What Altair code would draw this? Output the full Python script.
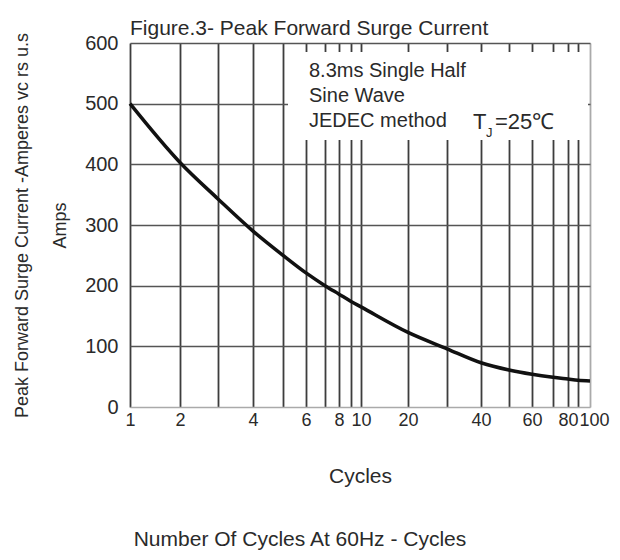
import altair as alt
import pandas as pd

# ---- data ----
cycles = [1, 2, 3, 4, 5, 6, 7, 8, 9, 10, 20, 30, 40, 50, 60, 70, 80, 90, 100]
amps = [500, 403, 343, 290, 250, 221, 200, 186, 174, 165, 123, 96, 73, 61, 54, 49, 46, 44, 43]
grid_cycles = [1, 2, 3, 4, 5, 6, 7, 8, 9, 10, 20, 30, 40, 50, 60, 70, 80, 90, 100]
labeled_cycles = [1, 2, 4, 6, 8, 10, 20, 40, 60, 80, 100]
y_ticks = [0, 100, 200, 300, 400, 500, 600]
note_lines = ["8.3ms Single Half", "Sine Wave", "JEDEC method"]
tj_main = "T"
tj_sub = "J"
tj_rest = "=25℃"
chart_title = "Figure.3- Peak Forward Surge Current"
y_title = ["Peak Forward Surge Current -Amperes vc rs u.s", "Amps"]
x_title = "Cycles"
footer = "Number Of Cycles At 60Hz - Cycles"

# printed (hand-drawn) log-cycle grid spacing of the original sheet
x_range = [0, 50, 88, 123, 153, 176, 195, 209, 221, 231, 278, 317, 351, 379, 402, 423, 438, 448, 460]

FONT = "Liberation Sans, Arial, Helvetica, sans-serif"
TXT = "#2a2a2a"

df = pd.DataFrame({"cycles": cycles, "amps": amps})
one = alt.Data(values=[{}])

lab_list = "[" + ",".join(str(v) for v in labeled_cycles) + "]"
last = labeled_cycles[-1]
label_expr = f"indexof({lab_list}, datum.value) >= 0 ? datum.label : ''"

xaxis = alt.Axis(
    values=grid_cycles,
    labelExpr=label_expr,
    labelOverlap=False,
    labelFlush=False,
    labelOffset={"condition": {"test": f"datum.value == {last}", "value": 4}, "value": 0},
    labelFont=FONT, labelFontSize=18, labelColor=TXT, labelPadding=4,
    ticks=False, domain=False,
    grid=True,
    gridColor={"condition": {"test": "datum.value == 100", "value": "#aaaaaa"}, "value": "#3d3d3d"},
    gridWidth=1.8,
    title=x_title, titleFont=FONT, titleFontSize=21, titleFontWeight="normal",
    titleColor=TXT, titleBaseline="alphabetic", titleY=75,
)

yaxis = alt.Axis(
    values=y_ticks,
    labelFont=FONT, labelFontSize=20, labelColor=TXT, labelPadding=12,
    labelFlush=False,
    ticks=False, domain=False,
    grid=True,
    gridColor={"condition": {"test": "datum.value == 0", "value": "#aaaaaa"}, "value": "#555555"},
    gridWidth=1.6,
    title=y_title, titleFont=FONT, titleFontSize=18, titleFontWeight="normal",
    titleColor=TXT, titleBaseline="alphabetic", titleLineHeight=38,
    titleX=-103, titleY=182, titleAngle=270,
)

xscale = alt.Scale(type="linear", domain=grid_cycles, range=x_range)
yscale = alt.Scale(domain=[0, 600], nice=False)

cover = alt.Chart(one).mark_rect(fill="white").encode(
    x=alt.value(158), x2=alt.value(458), y=alt.value(9), y2=alt.value(97)
)

curve = alt.Chart(df).mark_line(color="#111111", strokeWidth=3.5, interpolate="monotone").encode(
    x=alt.X("cycles:Q", scale=xscale, axis=xaxis),
    y=alt.Y("amps:Q", scale=yscale, axis=yaxis),
)

notes = alt.Chart(one).mark_text(
    align="left", baseline="alphabetic", font=FONT, fontSize=20, color=TXT, lineHeight=25
).encode(x=alt.value(179), y=alt.value(34), text=alt.value(note_lines))

tj1 = alt.Chart(one).mark_text(
    align="left", baseline="alphabetic", font=FONT, fontSize=22, color=TXT
).encode(x=alt.value(343), y=alt.value(86), text=alt.value(tj_main))

tj2 = alt.Chart(one).mark_text(
    align="left", baseline="alphabetic", font=FONT, fontSize=13, color=TXT
).encode(x=alt.value(356), y=alt.value(94), text=alt.value(tj_sub))

tj3 = alt.Chart(one).mark_text(
    align="left", baseline="alphabetic", font=FONT, fontSize=22, color=TXT
).encode(x=alt.value(365), y=alt.value(86), text=alt.value(tj_rest))

foot = alt.Chart(one).mark_text(
    align="center", baseline="alphabetic", font=FONT, fontSize=21, color=TXT
).encode(x=alt.value(170), y=alt.value(503), text=alt.value(footer))

chart = alt.layer(cover, curve, notes, tj1, tj2, tj3, foot).properties(
    width=460,
    height=364,
    autosize=alt.AutoSizeParams(type="none"),
    padding={"left": 122, "top": 35, "right": 22, "bottom": 145},
    title=alt.Title(chart_title, anchor="start", frame="group", font=FONT, fontSize=21,
                    fontWeight="normal", color=TXT, offset=-7),
).configure_view(stroke=None).configure(background="white")

chart.save("out.html", embed_options={"renderer": "svg", "actions": False})
